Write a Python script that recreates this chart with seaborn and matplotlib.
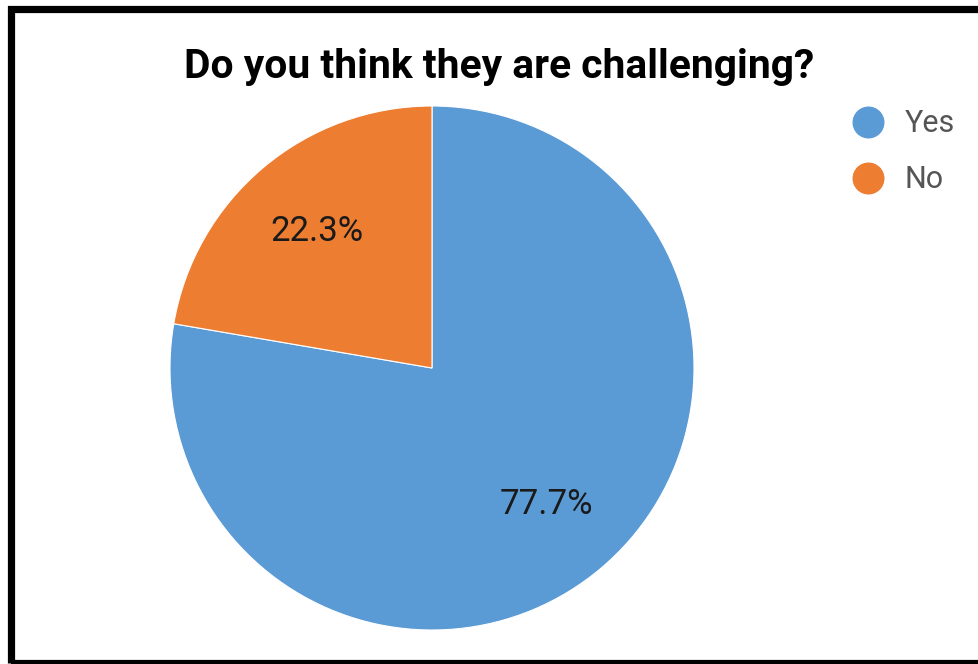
import matplotlib
matplotlib.use("Agg")
import matplotlib.pyplot as plt
import seaborn as sns
from matplotlib.lines import Line2D
from matplotlib.patches import Rectangle

# Datos
labels = ['Yes', 'No']
values = [77.7, 22.3]
colors = ['#5B9BD5', '#ED7D31']

sns.set_theme(style='white')
plt.rcParams['font.family'] = ['Roboto', 'DejaVu Sans']

W, H = 979, 664
fig = plt.figure(figsize=(W / 100, H / 100), dpi=100)

# pie centrado en (432, 368) px, radio 262 px
cx, cy, r = 432, 368, 262
ax = fig.add_axes([(cx - r) / W, (H - cy - r) / H, 2 * r / W, 2 * r / H])
wedges, texts, autotexts = ax.pie(
    values, colors=sns.color_palette(colors), startangle=90, counterclock=False,
    autopct='%.1f%%', pctdistance=0.68, radius=1,
    wedgeprops={'edgecolor': 'white', 'linewidth': 0.8},
    textprops={'fontsize': 25, 'color': '#1a1a1a'})
ax.set_xlim(-1, 1)
ax.set_ylim(-1, 1)
ax.set_aspect('equal')
ax.axis('off')

fig.text(499.5 / W, 1 - 67 / H, 'Do you think they are challenging?',
         ha='center', va='center', fontsize=29.3, fontweight='bold', color='black')

handles = [Line2D([], [], marker='o', linestyle='', markersize=22,
                  markerfacecolor=c, markeredgecolor=c) for c in colors]
leg = fig.legend(handles, labels, loc='upper left', bbox_to_anchor=(837 / W, 1 - 97 / H),
                 frameon=False, fontsize=22, labelspacing=0.89, handletextpad=0.6,
                 borderaxespad=0, handlelength=1.2)
for t in leg.get_texts():
    t.set_color('#555555')

# marco negro
fig.add_artist(Rectangle((10.5 / W, 1.5 / H), 1.2, (H - 8.5 - 1.5) / H,
                         transform=fig.transFigure, fill=False,
                         edgecolor='black', linewidth=5.2, clip_on=False))

fig.savefig('out.png', dpi=100)
